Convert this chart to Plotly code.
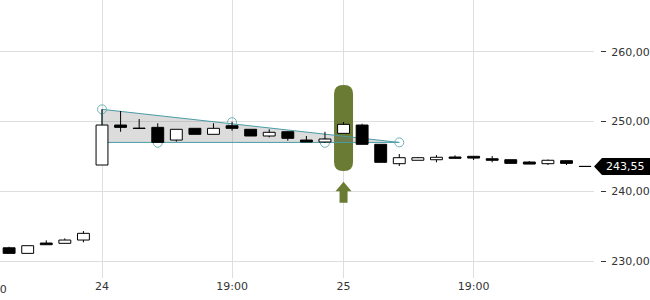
import plotly.graph_objects as go

# ---------------- data ----------------
idx = list(range(-5, 27))
opens = [231.90, 231.10, 232.58, 232.54, 233.01,
         243.76, 249.49, 249.05, 249.16, 247.34, 249.02, 248.16, 249.39, 248.88, 247.92,
         248.53, 247.34, 247.06, 248.30, 249.49, 246.73, 243.95, 244.44, 244.52, 244.91,
         245.01, 244.66, 244.52, 244.19, 243.95, 244.38, 243.57]
highs = [232.05, 232.20, 232.97, 233.25, 234.30,
         251.74, 251.50, 250.35, 249.74, 248.88, 249.02, 249.74, 249.97, 248.88, 248.88,
         248.60, 247.92, 248.53, 249.92, 249.68, 246.73, 245.34, 244.90, 245.19, 245.15,
         245.01, 245.05, 244.52, 244.33, 244.55, 244.38, 243.57]
lows = [231.10, 231.10, 232.34, 232.54, 232.68,
        243.76, 248.53, 249.00, 246.95, 247.10, 248.16, 248.16, 248.68, 247.92, 247.73,
        247.24, 247.06, 246.95, 248.30, 246.73, 244.15, 243.62, 244.44, 244.15, 244.72,
        244.48, 244.15, 244.00, 243.90, 243.76, 243.76, 243.55]
closes = [231.10, 232.20, 232.34, 233.01, 233.97,
          249.49, 249.16, 249.00, 247.01, 248.88, 248.16, 249.02, 249.02, 247.92, 248.45,
          247.59, 247.06, 247.49, 249.59, 246.73, 244.15, 244.81, 244.81, 244.87, 244.72,
          244.76, 244.44, 244.00, 243.90, 244.44, 244.00, 243.55]

tick_idx = [0, 7, 13, 20]
tick_text = ["24", "19:00", "25", "19:00"]
prev_tick_idx = -6
prev_tick_text = "19:00"

y_ticks = [230, 240, 250, 260]
y_tick_text = ["230,00", "240,00", "250,00", "260,00"]

last_price = 243.55
last_price_text = "243,55"

# triangle pattern
tri_x = [0, 16, 0]
tri_y = [251.74, 247.0, 247.0]
pivot_x = [0, 3, 7, 12, 16]
pivot_y = [251.74, 246.95, 249.90, 246.95, 247.0]

# highlighted candle
highlight_idx = 13
highlight_center = 249.07
arrow_tip = 241.37

x_range = [-5.49, 26.48]
y_range = [227.57, 267.41]

# ---------------- styling ----------------
FONT = "DejaVu Sans"
TXT = "#333333"
GRID = "#dedede"
TEAL = "#4a9ba5"
TEAL_C = "#6fb2b8"
OLIVE = "#6a7b34"
W, H = 650, 300
plot_right = 594
margin_b = 22

fig = go.Figure()

# wicks (segments outside bodies)
wx, wy = [], []
for i, o, h, l, c in zip(idx, opens, highs, lows, closes):
    lo_b, hi_b = min(o, c), max(o, c)
    if l < lo_b:
        wx += [i, i, None]; wy += [l, lo_b, None]
    if h > hi_b:
        wx += [i, i, None]; wy += [hi_b, h, None]
fig.add_trace(go.Scatter(x=wx, y=wy, mode="lines", line=dict(color="black", width=1),
                         hoverinfo="skip", showlegend=False))

# bodies
fig.add_trace(go.Bar(
    x=idx,
    y=[abs(c - o) for o, c in zip(opens, closes)],
    base=[min(o, c) for o, c in zip(opens, closes)],
    width=0.64,
    marker=dict(color=["white" if c >= o else "black" for o, c in zip(opens, closes)],
                line=dict(color="black", width=1)),
    hoverinfo="skip", showlegend=False))

shapes = []
# highlight rounded rect (pixel path around anchor)
hw, hh, r = 9.5, 43, 9
rr = (f"M{-hw},{hh - r} Q{-hw},{hh} {-hw + r},{hh} L{hw - r},{hh} Q{hw},{hh} {hw},{hh - r} "
      f"L{hw},{-hh + r} Q{hw},{-hh} {hw - r},{-hh} L{-hw + r},{-hh} Q{-hw},{-hh} {-hw},{-hh + r} Z")
shapes.append(dict(type="path", layer="between", xref="x", yref="y",
                   xsizemode="pixel", ysizemode="pixel",
                   xanchor=highlight_idx, yanchor=highlight_center,
                   path=rr, fillcolor=OLIVE, line=dict(width=0)))
# triangle
tri_path = "M" + " L".join(f"{x},{y}" for x, y in zip(tri_x, tri_y)) + " Z"
shapes.append(dict(type="path", layer="between", xref="x", yref="y", path=tri_path,
                   fillcolor="rgba(128,128,128,0.28)", line=dict(color=TEAL, width=1)))
# pivot circles
for px_, py_ in zip(pivot_x, pivot_y):
    shapes.append(dict(type="circle", layer="between", xref="x", yref="y",
                       xsizemode="pixel", ysizemode="pixel", xanchor=px_, yanchor=py_,
                       x0=-4.5, x1=4.5, y0=-4.5, y1=4.5,
                       line=dict(color=TEAL_C, width=1), fillcolor="rgba(0,0,0,0)"))
# arrow under highlight
arrow = "M0,0 L8,-9.5 L4,-9.5 L4,-21 L-4,-21 L-4,-9.5 L-8,-9.5 Z"
shapes.append(dict(type="path", layer="above", xref="x", yref="y",
                   xsizemode="pixel", ysizemode="pixel",
                   xanchor=highlight_idx, yanchor=arrow_tip,
                   path=arrow, fillcolor=OLIVE, line=dict(width=0)))
# price tag
shapes.append(dict(type="path", layer="above", xref="paper", yref="y",
                   xsizemode="pixel", ysizemode="pixel",
                   xanchor=plot_right / W, yanchor=last_price,
                   path="M0,0 L8,8.5 L60,8.5 L60,-8.5 L8,-8.5 Z",
                   fillcolor="black", line=dict(width=0)))

annotations = [
    dict(xref="paper", yref="y", x=604 / W, y=last_price, xanchor="left", yanchor="middle",
         text=last_price_text, showarrow=False, font=dict(family=FONT, size=11, color="white")),
]
# partially visible tick label of previous day
px_prev = (prev_tick_idx - x_range[0]) / (x_range[1] - x_range[0]) * plot_right
annotations.append(dict(xref="paper", yref="paper", x=px_prev / W, y=0, yanchor="top",
                        xanchor="center", yshift=-3, text=prev_tick_text, showarrow=False,
                        font=dict(family=FONT, size=11, color=TXT)))

fig.update_layout(
    width=W, height=H,
    margin=dict(l=0, r=0, t=0, b=margin_b),
    paper_bgcolor="white", plot_bgcolor="white",
    barmode="overlay", showlegend=False,
    shapes=shapes, annotations=annotations,
    xaxis=dict(range=x_range, domain=[0, plot_right / W], tickvals=tick_idx, ticktext=tick_text,
               showgrid=True, gridcolor=GRID, zeroline=False, showline=False, ticks="",
               tickfont=dict(family=FONT, size=11, color=TXT), automargin=False, fixedrange=True),
    yaxis=dict(range=y_range, side="right", anchor="free", position=600 / W,
               tickvals=y_ticks, ticktext=y_tick_text, showgrid=True, gridcolor=GRID,
               zeroline=False, showline=False, ticks="outside", ticklen=5, tickcolor=TXT,
               ticklabelstandoff=3,
               tickfont=dict(family=FONT, size=11, color=TXT), automargin=False, fixedrange=True),
)

fig.write_html("out.html", config={"displayModeBar": False})
